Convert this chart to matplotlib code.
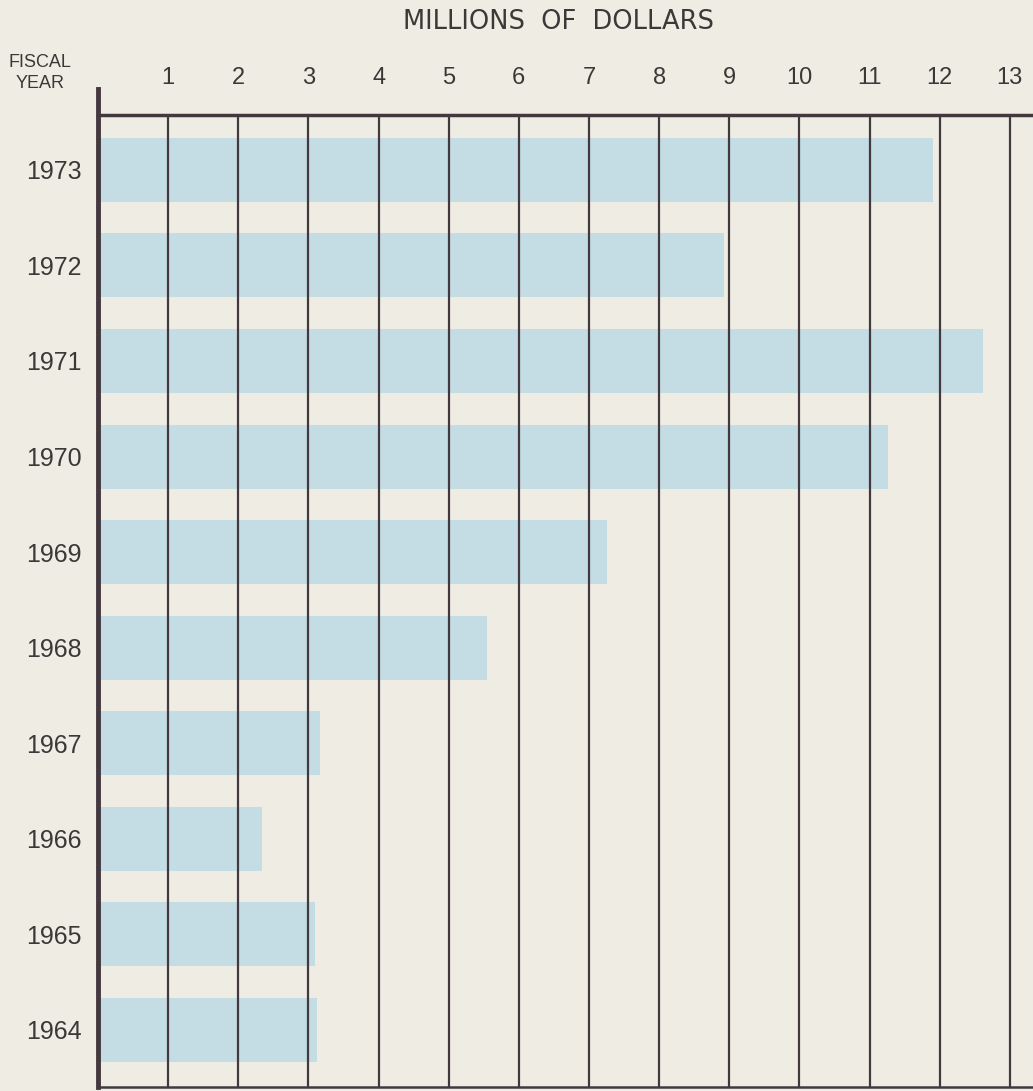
import numpy as np
import matplotlib.pyplot as plt

years = ["1964", "1965", "1966", "1967", "1968", "1969", "1970", "1971", "1972", "1973"]
millions = [3.12, 3.09, 2.34, 3.16, 5.55, 7.26, 11.26, 12.62, 8.92, 11.9]
ticks = list(range(1, 14))

bg = "#efede3"
bar_color = "#c4dde5"
line_color = "#43383e"
text_color = "#3b3838"

plt.rcParams["font.family"] = ["Liberation Sans", "DejaVu Sans"]

fig = plt.figure(figsize=(10.33, 10.91), dpi=100, facecolor=bg)
ax = fig.add_axes([98 / 1033, 4 / 1091, 1 - 98 / 1033, (1087 - 115) / 1091])
ax.set_facecolor(bg)

pos = np.arange(len(years))
ax.barh(pos, millions, height=0.67, color=bar_color, zorder=1)

for t in ticks:
    ax.axvline(t, color=line_color, lw=1.6, zorder=2)

ax.set_xlim(0, 13.33)
ax.set_ylim(-0.6, len(years) - 1 + 0.575)

ax.xaxis.tick_top()
ax.set_xticks(ticks)
ax.set_xticklabels([str(t) for t in ticks], fontsize=17, color=text_color)
ax.tick_params(axis="x", length=0, pad=19)
ax.set_yticks(pos)
ax.set_yticklabels(years, fontsize=18, color=text_color)
ax.tick_params(axis="y", length=0, pad=12)

ax.spines["right"].set_visible(False)
ax.spines["left"].set_visible(False)
ax.spines["top"].set_linewidth(2.5)
ax.spines["top"].set_color(line_color)
ax.spines["bottom"].set_linewidth(1.8)
ax.spines["bottom"].set_color(line_color)
# left axis sticks up above the top line
ax.axvline(0, ymin=0, ymax=1 + 26 / 972, color=line_color, lw=3.5, clip_on=False, zorder=3)

fig.text(558 / 1033, 1 - 22 / 1091, "MILLIONS  OF  DOLLARS", fontsize=18.5,
         family="DejaVu Sans", color=text_color, ha="center", va="center")
fig.text(40 / 1033, 1 - 73 / 1091, "FISCAL\nYEAR", fontsize=13, color=text_color,
         ha="center", va="center", linespacing=1.3)

fig.savefig("out.png", dpi=100, facecolor=bg)
